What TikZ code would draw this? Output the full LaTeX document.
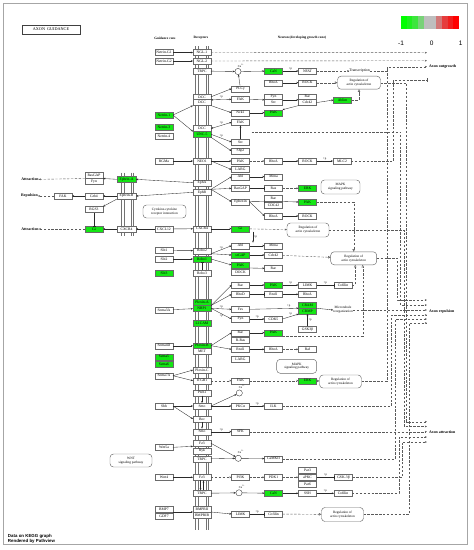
\documentclass[tikz,border=0pt]{standalone}
\usepackage{fontspec}
\setmainfont{Liberation Serif}
\setsansfont{Liberation Sans}
\usetikzlibrary{arrows.meta}
\definecolor{kg}{HTML}{14E614}
\definecolor{bx}{HTML}{6A6A6A}
\definecolor{lnc}{HTML}{2A2A2A}
\definecolor{dlc}{HTML}{5A5A5A}
\definecolor{lga}{HTML}{00FF00}
\definecolor{lgb}{HTML}{1EF01E}
\definecolor{lgc}{HTML}{3CE63C}
\definecolor{lgd}{HTML}{78D278}
\definecolor{lge}{HTML}{BEBEBE}
\definecolor{lgf}{HTML}{D27878}
\definecolor{lgg}{HTML}{E63C3C}
\definecolor{lgh}{HTML}{F01E1E}
\definecolor{lgi}{HTML}{FF0000}
\newcommand\kfs{\fontsize{3.7}{3.9}\selectfont}
\newcommand\kfsp{\fontsize{3.4}{3.8}\selectfont}
\newcommand\kfsb{\fontsize{3.9}{4.2}\selectfont\bfseries}
\newcommand\kfpp{\fontsize{3}{3}\selectfont}
\begin{document}
\begin{tikzpicture}[x=1pt,y=-1pt,
  >={Stealth[length=2.2pt,width=1.8pt]},
  every node/.style={inner sep=0pt, outer sep=0pt},
  gn/.style={draw=bx, fill=white, line width=0.4pt, minimum width=18pt, minimum height=6pt, font=\kfs},
  gg/.style={gn, fill=kg},
  pw/.style={draw=bx, fill=white, rounded corners=3.5pt, line width=0.45pt, align=center, minimum width=42pt, minimum height=13pt, font=\kfsp},
  ar/.style={->, draw=lnc, line width=0.35pt},
  ar2/.style={<->, draw=lnc, line width=0.35pt},
  inh/.style={-{Bar[width=3pt]}, draw=lnc, line width=0.35pt},
  dsh/.style={draw=dlc, line width=0.4pt, dash pattern=on 2.4pt off 1.5pt},
  dar/.style={dsh, ->},
  dop/.style={dsh, -{Triangle[open,length=2.6pt,width=2.4pt]}},
  dbar/.style={dsh, -{Bar[width=3.5pt]}},
  pp/.style={font=\kfpp, inner sep=0.4pt},
  lbl/.style={font=\kfsb},
  txt/.style={font=\kfs, align=center},
  cag/.style={circle, draw=lnc, fill=white, line width=0.35pt, minimum size=6.2pt},
  mem/.style={draw=black!55, line width=0.5pt}]
\useasboundingbox (0,0) rectangle (474,550);
\draw[black!35, line width=0.8pt] (3,3) rectangle (467,544);

% title and legend
\node[draw=black!75, line width=0.6pt, minimum width=58pt, minimum height=9pt, font=\fontsize{4.2}{4.5}\selectfont] (title) at (51,29.5) {AXON\ \ GUIDANCE};
\fill[lga] (400.7,16) rectangle +(5.86,13.3);
\fill[lgb] (406.56,16) rectangle +(5.86,13.3);
\fill[lgc] (412.42,16) rectangle +(5.86,13.3);
\fill[lgd] (418.28,16) rectangle +(5.86,13.3);
\fill[lge] (424.14,16) rectangle +(5.86,13.3);
\fill[lge] (430.0,16) rectangle +(5.86,13.3);
\fill[lgf] (435.86,16) rectangle +(5.86,13.3);
\fill[lgg] (441.72,16) rectangle +(5.86,13.3);
\fill[lgh] (447.58,16) rectangle +(5.86,13.3);
\fill[lgi] (453.44,16) rectangle +(5.86,13.3);
\node[font=\fontsize{6.5}{7}\sffamily] (lm) at (401,43) {-1};
\node[font=\fontsize{6.5}{7}\sffamily] (lz) at (431.7,43) {0};
\node[font=\fontsize{6.5}{7}\sffamily] (lp) at (460.7,43) {1};

% headers
\node[font=\fontsize{3.4}{3.7}\selectfont\bfseries] (h1) at (165,38) {Guidance cues};
\node[font=\fontsize{3.4}{3.7}\selectfont\bfseries] (h2) at (201,38) {Receptors};
\node[font=\fontsize{3.4}{3.7}\selectfont\bfseries] (h3) at (302,38) {Neuron (developing growth cone)};

% membranes
\foreach \x in {195.5,198,205.8,208.3} \draw[mem] (\x,46) -- (\x,530);
\foreach \x in {121.6,124,131,133.4} \draw[mem] (\x,172.5) -- (\x,236);

% bus coordinates and end points
\coordinate (b387) at (387,0);
\coordinate (b391) at (391.5,0);
\coordinate (b393) at (393.5,0);
\coordinate (b395) at (395.5,0);
\coordinate (b397) at (397.5,0);
\coordinate (b398) at (399,0);
\coordinate (b400) at (400.5,0);
\coordinate (b401) at (402,0);
\coordinate (b403) at (404,0);
\coordinate (b406) at (406.5,0);
\coordinate (b409) at (409,0);
\coordinate (og1) at (427,52.7);
\coordinate (og2) at (427,60.7);
\coordinate (og3) at (427,66.7);
\coordinate (ogb) at (427,80);
\coordinate (rp1) at (427,300);
\coordinate (rp2) at (427,305);
\coordinate (rp3) at (427,310);
\coordinate (rp4) at (427,315);
\coordinate (rp5) at (427,319);
\coordinate (rp6) at (427,323);
\coordinate (at1) at (427,421.7);
\coordinate (at2) at (427,426.5);
\coordinate (at3) at (427,431.7);
\coordinate (at4) at (427,437);
\coordinate (at5) at (427,442);
\coordinate (uncs) at (251.5,131.7);

% outcome labels
\node[lbl, anchor=west] (og) at (429,67) {Axon outgrowth};
\node[lbl, anchor=west] (rep) at (429,312) {Axon repulsion};
\node[lbl, anchor=west] (att) at (429,432.5) {Axon attraction};
\node[lbl] (attra) at (30,179.5) {Attraction};
\node[lbl] (repl) at (29.5,196) {Repulsion};
\node[lbl] (attrb) at (30,229) {Attraction};

% ligands
\node[gn] (ng1) at (164,52.5) {Netrin-G1};
\node[gn] (ng2) at (164,61) {Netrin-G2};
\node[gg] (net1) at (164,115) {Netrin-1};
\node[gg] (net3) at (164,127.5) {Netrin-3};
\node[gn] (net4) at (164,136.5) {Netrin-4};
\node[gn] (rgma) at (164,161) {RGMa};
\node[gn] (cxcl12) at (164,229) {CXCL12};
\node[gn] (slit1) at (164,250.5) {Slit1};
\node[gn] (slit2) at (164,259) {Slit2};
\node[gg] (slit3) at (164,273) {Slit3};
\node[gn] (sema3a) at (164,310) {Sema3A};
\node[gn] (sema4d) at (164,345.7) {Sema4D};
\node[gg] (sema5) at (164,356.7) {Sema5};
\node[gg] (sema6) at (164,364.5) {Sema6};
\node[gn] (sema7a) at (164,375.7) {Sema7A};
\node[gn] (shh) at (164,406) {Shh};
\node[gn] (wnt5a) at (164,447.3) {Wnt5a};
\node[gn] (wnt4) at (164,477.3) {Wnt4};
\node[gn] (bmp7) at (164,509) {BMP7};
\node[gn] (gdf7) at (164,516.5) {GDF7};

% receptors
\node[gn] (ngl1) at (202,52.5) {NGL-1};
\node[gn] (ngl2) at (202,61) {NGL-2};
\node[gn] (trpc1) at (202,71) {TRPC};
\node[gn] (dcca) at (202,96.8) {DCC};
\node[gn] (dccb) at (202,102.6) {DCC};
\node[gn] (dccc) at (202,128.5) {DCC};
\node[gg] (unc5) at (202,134.3) {UNC-5};
\node[gn] (neo1) at (202,161) {NEO1};
\node[gn] (epha) at (202,182.7) {EphA};
\node[gn] (ephb) at (202,192.3) {EphB};
\node[gn] (cxcr4) at (202,228.7) {CXCR4};
\node[gn] (robo2) at (202,250.7) {Robo2};
\node[gg] (robo1) at (202,259) {Robo1};
\node[gn] (robo3) at (202,273.3) {Robo3};
\node[gg] (plxa) at (202,302.5) {Plexin-A};
\node[gg] (nrp1) at (202,308.3) {NRP1};
\node[gg] (l1cam) at (202,323.3) {L1CAM};
\node[gg] (plxb) at (202,345.7) {Plexin-B};
\node[gn] (met) at (202,351.5) {MET};
\node[gn] (plxc) at (202,370) {Plexin-C};
\node[gn] (itgb1) at (202,380.7) {ITGB1};
\node[gn] (ptch1) at (202,392.7) {Ptch1};
\node[gn] (smo) at (202,406) {Smo};
\node[gn] (boc) at (202,419) {Boc};
\node[gn] (smo2) at (202,431.7) {Smo};
\node[gn] (fz3) at (202,443.3) {Fz3};
\node[gn] (ryk) at (202,451) {Ryk};
\node[gn] (trpc2) at (202,459) {TRPC};
\node[gn] (fz3b) at (202,477.3) {Fz3};
\node[gn] (trpc3) at (202,493.3) {TRPC};
\node[gn] (bmpr2) at (202,509) {BMPRII};
\node[gn] (bmpr1b) at (202,514.8) {BMPRIB};

% ephrin side
\node[gg, minimum width=19pt] (ephrinA) at (126.5,179.3) {Ephrin-A};
\node[gn, minimum width=19pt] (ephrinB) at (126.5,196) {Ephrin-B};
\node[gn, minimum width=19pt] (cxcr4l) at (126.5,229) {CXCR4};
\node[gn] (rasgapl) at (94,175.5) {RasGAP};
\node[gn] (fynl) at (94,181.3) {Fyn};
\node[gn] (grb4) at (94,196) {Grb4};
\node[gn] (rgs3) at (94,209.5) {RGS3};
\node[gg] (gil) at (94,229) {Gi};
\node[gn] (fakl) at (63,196) {FAK};
\node[pw, minimum width=43pt] (cyto) at (164.5,211.5) {Cytokine-cytokine\\receptor interaction};
\node[pw] (wntp) at (131,460.5) {WNT\\signaling pathway};

% column 1
\node[cag] (ca1) at (238,71.5) {};
\node[font=\kfpp] (ca1l) at (241,65.5) {Ca\textsuperscript{2+}};
\node[gn] (plcg) at (240.5,88.7) {PLCγ};
\node[gn] (fak1) at (240.5,99.3) {FAK};
\node[gn] (nck1) at (240.5,112.7) {Nck1};
\node[gn] (fak2) at (240.5,122.3) {FAK};
\node[gn] (src1) at (240.5,142) {Src};
\node[gn] (shp2) at (240.5,151) {Shp2};
\node[gn] (pak1) at (240.5,161) {PAK};
\node[gn] (larg1) at (240.5,169.5) {LARG};
\node[gn] (abl1) at (240.5,176.7) {Abl};
\node[gn] (rasgap1) at (240.5,188.3) {RasGAP};
\node[gn] (ephexin) at (240.5,201.7) {Ephexin};
\node[gg] (gi) at (240.5,228.7) {Gi};
\node[gn] (abl2) at (240.5,245.7) {Abl};
\node[gg] (srgap) at (240.5,255) {srGAP};
\node[gg] (pak2) at (240.5,265) {PAK};
\node[gn] (dock) at (240.5,272.2) {DOCK};
\node[gn] (rac1) at (240.5,285) {Rac};
\node[gn] (rhod) at (240.5,294.3) {RhoD};
\node[gn] (fes) at (240.5,309.3) {Fes};
\node[gn] (fyn2) at (240.5,319) {Fyn};
\node[gn] (rac2) at (240.5,332.7) {Rac};
\node[gn] (rras) at (240.5,340.3) {R-Ras};
\node[gn] (rnd1) at (240.5,349.3) {Rnd1};
\node[gn] (larg2) at (240.5,359) {LARG};
\node[gn] (fak3) at (240.5,380.7) {FAK};
\node[cag] (ca2) at (239.3,393) {};
\node[font=\kfpp] (ca2l) at (242,386.8) {Ca\textsuperscript{2+}};
\node[gn] (pkca) at (240.5,406) {PKCα};
\node[gn] (sfk) at (240.5,431.7) {SFK};
\node[cag] (ca3) at (238.3,458.3) {};
\node[font=\kfpp] (ca3l) at (241,452) {Ca\textsuperscript{2+}};
\node[gn] (pi3k) at (240.5,477.3) {PI3K};
\node[cag] (ca4) at (239,492.8) {};
\node[font=\kfpp] (ca4l) at (242,486.5) {Ca\textsuperscript{2+}};
\node[gn] (limk2) at (240.5,514) {LIMK};

% column 2
\node[gg] (can1) at (273.5,71) {CaN};
\node[gn] (rhoa1) at (273.5,82.7) {RhoA};
\node[gn] (fyn1) at (273.5,96.8) {Fyn};
\node[gn] (src0) at (273.5,102.6) {Src};
\node[gg] (pakg1) at (273.5,112.7) {PAK};
\node[gn] (rhoa2) at (273.5,161) {RhoA};
\node[gn] (mena1) at (273.5,176.7) {Mena};
\node[gn] (ras1) at (273.5,188.3) {Ras};
\node[gn] (rac3) at (273.5,198.5) {Rac};
\node[gn] (cdc42c) at (273.5,205.3) {CDC42};
\node[gn] (rhoa3) at (273.5,216) {RhoA};
\node[gn] (mena2) at (273.5,245.7) {Mena};
\node[gn] (cdc42b) at (273.5,255) {Cdc42};
\node[gn] (rac4) at (273.5,268.3) {Rac};
\node[gg] (pakg2) at (273.5,285) {PAK};
\node[gn] (rnd1b) at (273.5,294.3) {Rnd1};
\node[gn] (cdk5) at (273.5,319) {CDK5};
\node[gg] (pakg3) at (273.5,332.7) {PAK};
\node[gn] (rhoa4) at (273.5,349.3) {RhoA};
\node[gn] (ilk) at (273.5,406) {ILK};
\node[gn] (camk) at (273.5,458.7) {CaMKII};
\node[gn] (pdk1) at (273.5,477.3) {PDK1};
\node[gg] (can2) at (273.5,493.3) {CaN};
\node[gn] (cof2) at (273.5,514) {Cofilin};

% column 3
\node[gn] (nfat) at (307.5,71) {NFAT};
\node[gn] (rock1) at (307.5,82.7) {ROCK};
\node[gn] (rac0) at (307.5,96.8) {Rac};
\node[gn] (cdc42a) at (307.5,102.6) {Cdc42};
\node[gn] (rock2) at (307.5,161) {ROCK};
\node[gg] (erk1) at (307.5,188.3) {ERK};
\node[gg] (pakg4) at (307.5,202) {PAK};
\node[gn] (rock3) at (307.5,216) {ROCK};
\node[gn] (limk1) at (307.5,285) {LIMK};
\node[gn] (rhoa5) at (307.5,294.3) {RhoA};
\node[gg] (cram) at (307.5,305.2) {CRAM};
\node[gg] (crmp) at (307.5,311) {CRMP};
\node[gn] (gsk1) at (307.5,329.3) {GSK3β};
\node[gn] (raf) at (307.5,349.3) {Raf};
\node[gg] (erk2) at (307.5,380.7) {ERK};
\node[gn] (par3) at (307.5,470) {Par3};
\node[gn] (apkc) at (307.5,477.3) {aPKC};
\node[gn] (par6) at (307.5,484.6) {Par6};
\node[gn] (ssh) at (307.5,493.3) {SSH};

% column 4
\node[gg] (ablim) at (342.5,100) {Ablim};
\node[gn] (mlc2) at (342,161) {MLC2};
\node[gn] (cof1) at (343,285) {Cofilin};
\node[gn] (gsk2) at (343.5,477.3) {GSK-3β};
\node[gn] (cof3) at (343,493.3) {Cofilin};

% texts and pathway boxes
\node[txt, font=\fontsize{3.8}{4}\selectfont] (trans) at (359.5,71) {Transcription};
\node[pw, minimum width=43pt] (rega) at (359,82.7) {Regulation of\\actin cytoskeleton};
\node[pw, minimum width=39pt, minimum height=14pt] (mapk1) at (340.5,187) {MAPK\\signaling pathway};
\node[pw, minimum height=14pt] (regb) at (308,230) {Regulation of\\actin cytoskeleton};
\node[pw, minimum width=46pt] (regc) at (353.7,258.3) {Regulation of\\actin cytoskeleton};
\node[txt, font=\kfsp] (micro) at (343,310) {Microtubule\\reorganization};
\node[pw, minimum width=40pt, minimum height=14pt] (mapk2) at (296.7,366.3) {MAPK\\signaling pathway};
\node[pw] (regd) at (340.5,381.5) {Regulation of\\actin cytoskeleton};
\node[pw, minimum height=14pt] (rege) at (342.5,514.5) {Regulation of\\actin cytoskeleton};

% footer
\node[anchor=west, align=left, font=\fontsize{4.4}{5.7}\sffamily\bfseries] (foot) at (8,538.8) {Data on KEGG graph\\Rendered by Pathview};

% ---- connectors: netrin-G, TRPC
\draw[ar] (ng1) -- (ngl1);
\draw[ar] (ng2) -- (ngl2);
\draw[dar] (ngl1) -- (og1);
\draw[dar] (ngl2) -- (og2);
\draw[ar] (trpc1) -- (ca1);
\draw[ar] (ca1) -- (can1);
\draw[ar] (can1) -- node[pp,above=0.4pt]{+p} (nfat);
\draw[dar] (nfat) -- (trans);
\draw[dar] (trans.east) -| (b387 |- og3) -- (og3);
\draw[ar] (rhoa1) -- (rock1);
\draw[dop] (rock1) -- (rega);
\draw[dar] (rega.east) -| (b406 |- at1) -- (at1);
% netrin / DCC
\draw[ar] (plcg) -- (ca1);
\draw[ar] (dcca.east) -- (plcg.west);
\draw[ar2] (dcca.south east) -- node[pp,above=0.6pt]{+p} (fak1.west);
\draw[ar] (fak1) -- (fyn1.south west);
\draw[ar] (fyn1.south east) -- (rac0.south west);
\draw[ar] (cdc42a.east) -- (ablim.west);
\draw[ar] (cdc42a.south west) -- (pakg1.north east);
\draw[dop] (ablim.east) -| (rega.south);
\draw[ar] (dccb.south east) -- (nck1.west);
\draw[ar] (nck1) -- (pakg1);
\draw[ar] (net1.east) -- (dccb.south west);
\draw[ar] (net1.east) -- (dccc.south west);
\draw[ar2] (dccc.east) -- node[pp,above=0.6pt]{+p} (fak2.west);
\draw[ar] (unc5.east) -- node[pp,above=0.4pt]{+p} (src1.west);
\draw[ar] (unc5.south east) -- (shp2.west);
\draw[ar] (src1) -- (fak2);
\draw[dar] (uncs) -| (b400 |- rp2) -- (rp2);
% RGMa
\draw[ar] (rgma) -- (neo1);
\draw[ar] (neo1) -- (pak1);
\draw[ar] (neo1.east) -- (larg1.west);
\draw[dar] (pak1) -- (rhoa2);
\draw[ar] (rhoa2) -- (rock2);
\draw[ar] (rock2) -- node[pp,above=0.4pt]{+p} (mlc2);
\draw[dbar] (mlc2.east) -| (b393 |- ogb) -- (ogb);
% ephrins
\draw[ar] (epha.west) -- (ephrinA.east);
\draw[ar] (ephb.west) -- (ephrinB.east);
\draw[ar] (ephrinA.west) -- (rasgapl.south east);
\draw[dar] (rasgapl.south west) -- (attra);
\draw[ar] (ephrinB) -- (grb4);
\draw[ar] (grb4) -- (fakl);
\draw[dar] (fakl) -- (repl);
\draw[ar] (ephrinB.south west) -- (rgs3.north east);
\draw[inh] (rgs3) -- (gil);
\draw[ar] (cxcr4l) -- (gil);
\draw[dar] (gil) -- (attrb);
\draw[ar] (cxcl12) -- (cxcr4l);
\draw[ar] (cxcl12) -- (cxcr4);
\draw[ar] (cxcr4) -- (gi);
\draw[dar] (gi) -- (regb);
\draw[dar] (regb.east) -| (b403 |- at2) -- (at2);
\draw[ar] ([xshift=3.5pt]gi.south east) -- node[pp,right=0.6pt]{+p} ([xshift=3.5pt]gi.south east |- abl2.north);
\draw[ar] (ephb.north east) -- (abl1.west);
\draw[ar] (ephb.north east) -- (rasgap1.west);
\draw[ar] (ephb.north east) -- (ephexin.west);
\draw[ar] (abl1) -- (mena1);
\draw[inh] (rasgap1) -- (ras1);
\draw[dar] (ras1) -- (erk1);
\draw[inh] (ephexin.east) -- (rac3.south west);
\draw[ar] (ephexin.east) -- (rhoa3.west);
\draw[ar] (rac3.south east) -- (pakg4.west);
\draw[ar] (rhoa3) -- (rock3);
\draw[dop] (pakg4.east) -| (regc.north);
% robo
\draw[ar] (slit1) -- (robo2);
\draw[ar] (slit2) -- (robo1);
\draw[inh] (robo3) -- (robo1);
\draw[ar] (robo2.south east) -- node[pp,above=0.6pt]{+p} (abl2.west);
\draw[ar] (robo2.south east) -- (srgap.west);
\draw[ar] (robo1.east) -- (pak2.west);
\draw[ar] (abl2) -- (mena2);
\draw[ar] (srgap) -- (cdc42b);
\draw[dop] (cdc42b) -- (regc);
\draw[ar] (pak2.south east) -- (rac4.west);
\draw[dar] (regc.east) -| (b397 |- rp1) -- (rp1);
% semaphorins
\draw[ar] (sema3a) -- (nrp1);
\draw[ar] (plxa.south east) -- (rac1.west);
\draw[ar] (plxa.south east) -- (rhod.west);
\draw[ar] (nrp1.east) -- node[pp,above=0.4pt]{+p} (fes.west);
\draw[ar] (nrp1.east) -- node[pp,below=0.6pt]{+p} (fyn2.west);
\draw[ar] (rac1) -- (pakg2);
\draw[ar] (pakg2) -- node[pp,above=0.4pt]{+p} (limk1);
\draw[inh] (limk1) -- node[pp,above=0.4pt]{+p} (cof1);
\draw[dop] (cof1.east) -| ([xshift=1.5pt]regc.south);
\draw[inh] (rhod) -- (rnd1b);
\draw[ar] (rnd1b) -- (rhoa5);
\draw[ar] (fes.east) -- node[pp,above=0.4pt,pos=0.8]{+p} (cram.south west);
\draw[ar] (fyn2) -- node[pp,above=0.4pt]{+p} (cdk5);
\draw[ar] (cdk5.east) -- node[pp,above=0.6pt]{+p} (crmp.south west);
\draw[ar] (gsk1) -- node[pp,right=0.6pt]{+p} (crmp);
\draw[ar] (cram.south east) -- (micro.west);
\draw[dar] (micro) -- (rp3);
\draw[ar] (sema4d) -- (plxb);
\draw[ar] (plxb.east) -- (rac2.west);
\draw[ar] (plxb.east) -- (rnd1.west);
\draw[ar] (rac2) -- (pakg3);
\draw[ar] (rnd1) -- (rhoa4);
\draw[dar] (rhoa4) -- (raf);
\draw[dop] (pakg3.south east) -| ([xshift=9pt]regc.south);
\draw[ar] (sema7a.east) -- (plxc.west);
\draw[ar] (sema7a.east) -- (itgb1.west);
\draw[dar] (itgb1) -- (fak3);
\draw[dar] (fak3) -- (erk2);
\draw[dop] (erk2) -- (regd);
\draw[dsh] (regd.east) -| (b387 |- og3);
% Shh
\draw[ar] (ptch1) -- (smo);
\draw[ar] (shh.east) -- (smo.west);
\draw[ar] (shh.east) -- (boc.west);
\draw[ar] (boc) -- (smo2);
\draw[ar] (smo.east) -- (ca2);
\draw[ar] (smo) -- (pkca);
\draw[ar] (pkca) -- node[pp,above=0.4pt]{+p} (ilk);
\draw[dar] (ilk.east) -| (b391 |- rp4) -- (rp4);
\draw[ar] (smo2) -- node[pp,above=0.4pt]{+p} (sfk);
\draw[dar] (sfk) -- (at3);
% Wnt
\draw[ar] (wnt5a.east) -- (fz3.south west);
\draw[ar] (fz3.east) -- (ca3);
\draw[ar] (trpc2) -- (ca3);
\draw[ar] (ca3) -- (camk);
\draw[dar] (camk.east) -| (b395 |- rp5) -- (rp5);
\draw[ar] (wnt4) -- (fz3b);
\draw[dar] (fz3b) -- (pi3k);
\draw[dar] (pi3k) -- (pdk1);
\draw[dar] (pdk1) -- (apkc);
\draw[inh] (apkc) -- node[pp,above=0.4pt]{+p} (gsk2);
\draw[dar] (gsk2.east) -| (b401 |- at5) -- (at5);
\draw[ar] ([xshift=-1.5pt]fz3b.south) -- ([xshift=-1.5pt]trpc3.north);
\draw[ar] ([xshift=1.5pt]trpc3.north) -- ([xshift=1.5pt]fz3b.south);
\draw[ar] (trpc3) -- (ca4);
\draw[ar] (ca4) -- (can2);
\draw[ar] (can2) -- (ssh);
\draw[ar] (ssh) -- node[pp,above=0.4pt]{+p} (cof3);
\draw[dar] (cof3.east) -| (b398 |- at4) -- (at4);
% BMP
\draw[ar] (bmp7.south east) -- (bmpr2.south west);
\draw[ar] (bmpr2.south east) -- (limk2.west);
\draw[inh] (limk2) -- node[pp,above=0.4pt]{+p} (cof2);
\draw[dop] (cof2) -- (rege);
\draw[dar] (rege.east) -| (b409 |- rp6) -- (rp6);
\end{tikzpicture}
\end{document}
